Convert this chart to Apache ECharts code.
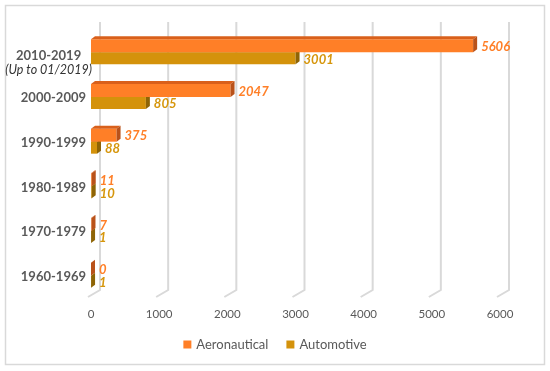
<!DOCTYPE html>
<html>
<head>
<meta charset="utf-8">
<script src="https://cdn.jsdelivr.net/npm/echarts@6/dist/echarts.min.js"></script>
<style>
html,body{margin:0;padding:0;background:#fff;}
#chart{width:550px;height:371px;}
</style>
</head>
<body>
<div id="chart"></div>
<script>
const categories = ['2010-2019', '2000-2009', '1990-1999', '1980-1989', '1970-1979', '1960-1969'];
const categoryNotes = ['(Up to 01/2019)', '', '', '', '', ''];
const aeronautical = [5606, 2047, 375, 11, 7, 0];
const automotive = [3001, 805, 88, 10, 1, 1];
const xTicks = [0, 1000, 2000, 3000, 4000, 5000, 6000];

const DX = 4, DY = -3;
const FONT = 'Lato, "Open Sans", sans-serif';

function barRender(front, top, side, labelColor, offTop, thick) {
  return function (params, api) {
    const v = api.value(0), cat = api.value(1);
    const p0 = api.coord([0, cat]);
    const p1 = api.coord([v, cat]);
    const x0 = p0[0], x1 = p1[0];
    const y0 = p0[1] + offTop, y1 = y0 + thick;
    return {
      type: 'group',
      children: [
        { type: 'rect', shape: { x: x0, y: y0, width: Math.max(x1 - x0, 0), height: thick }, style: { fill: front } },
        { type: 'polygon', shape: { points: [[x0, y0], [x1, y0], [x1 + DX, y0 + DY], [x0 + DX, y0 + DY]] }, style: { fill: top } },
        { type: 'polygon', shape: { points: [[x1, y0], [x1 + DX, y0 + DY], [x1 + DX, y1 + DY], [x1, y1]] }, style: { fill: side } },
        { type: 'text', style: { text: String(v), x: x1 + DX + 4, y: y0 + thick / 2 + 1, verticalAlign: 'middle', align: 'left',
          fill: labelColor, font: 'italic bold 13px ' + FONT } }
      ]
    };
  };
}

function gridRender(params, api) {
  const px = api.coord([api.value(0), 0])[0];
  const cs = params.coordSys;
  const bx = px + 9;
  const bottom = cs.y + cs.height - 8;
  return {
    type: 'polyline',
    shape: { points: [[bx, cs.y - 8], [bx, bottom], [px - 3, cs.y + cs.height - 1]] },
    style: { stroke: '#d9d9d9', lineWidth: 2, fill: null }
  };
}

const chart = echarts.init(document.getElementById('chart'), null, { renderer: 'canvas' });
chart.setOption({
  animation: false,
  backgroundColor: '#fff',
  graphic: [{ type: 'rect', shape: { x: 5.5, y: 5.5, width: 539, height: 359 }, style: { fill: null, stroke: '#d9d9d9', lineWidth: 1.5 }, z: -10 }],
  grid: { left: 91, right: 50, top: 30, bottom: 73, containLabel: false, outerBoundsMode: 'none' },
  legend: {
    data: ['Aeronautical', 'Automotive'],
    bottom: 15, left: 'center',
    icon: 'rect', itemWidth: 8, itemHeight: 8, itemGap: 18,
    textStyle: { color: '#595959', fontSize: 13, fontFamily: FONT }
  },
  xAxis: {
    type: 'value', min: 0, max: 6000, interval: 1000,
    axisLine: { show: false }, axisTick: { show: false }, splitLine: { show: false },
    axisLabel: { color: '#595959', fontSize: 11.5, margin: 10, fontFamily: FONT, formatter: v => String(v) }
  },
  yAxis: {
    type: 'category', inverse: true,
    data: categories,
    axisLine: { show: false }, axisTick: { show: false }, splitLine: { show: false },
    axisLabel: {
      margin: -1,
      formatter: function (val, idx) {
        if (categoryNotes[idx]) return '{s| }\n{a|' + val + '}\n{b|' + categoryNotes[idx] + '}';
        return '{t| }\n{c|' + val + '}';
      },
      rich: {
        s: { fontSize: 6, lineHeight: 21 },
        t: { fontSize: 2, lineHeight: 2 },
        a: { fontWeight: 'bold', fontSize: 13, color: '#595959', fontFamily: FONT, lineHeight: 15, align: 'center' },
        b: { fontStyle: 'italic', fontSize: 12.5, color: '#333', fontFamily: FONT, lineHeight: 15, align: 'center' },
        c: { fontWeight: 'bold', fontSize: 13, color: '#595959', fontFamily: FONT, lineHeight: 15, padding: [0, 6, 0, 0] }
      }
    }
  },
  series: [
    {
      type: 'custom', name: 'grid', silent: true, z: 0,
      renderItem: gridRender,
      data: xTicks.map(t => [t, 0]),
      encode: { x: 0, y: 1 }
    },
    {
      type: 'custom', name: 'Automotive', z: 2,
      itemStyle: { color: '#D4920B' },
      renderItem: barRender('#D4920B', '#B07A08', '#8E6405', '#D6960C', 0, 12),
      data: automotive.map((v, i) => [v, i]),
      encode: { x: 0, y: 1 }
    },
    {
      type: 'custom', name: 'Aeronautical', z: 3,
      itemStyle: { color: '#FF7F27' },
      renderItem: barRender('#FF7F27', '#D9601B', '#B9521A', '#FF7F27', -13, 13),
      data: aeronautical.map((v, i) => [v, i]),
      encode: { x: 0, y: 1 }
    }
  ]
});
</script>
</body>
</html>
